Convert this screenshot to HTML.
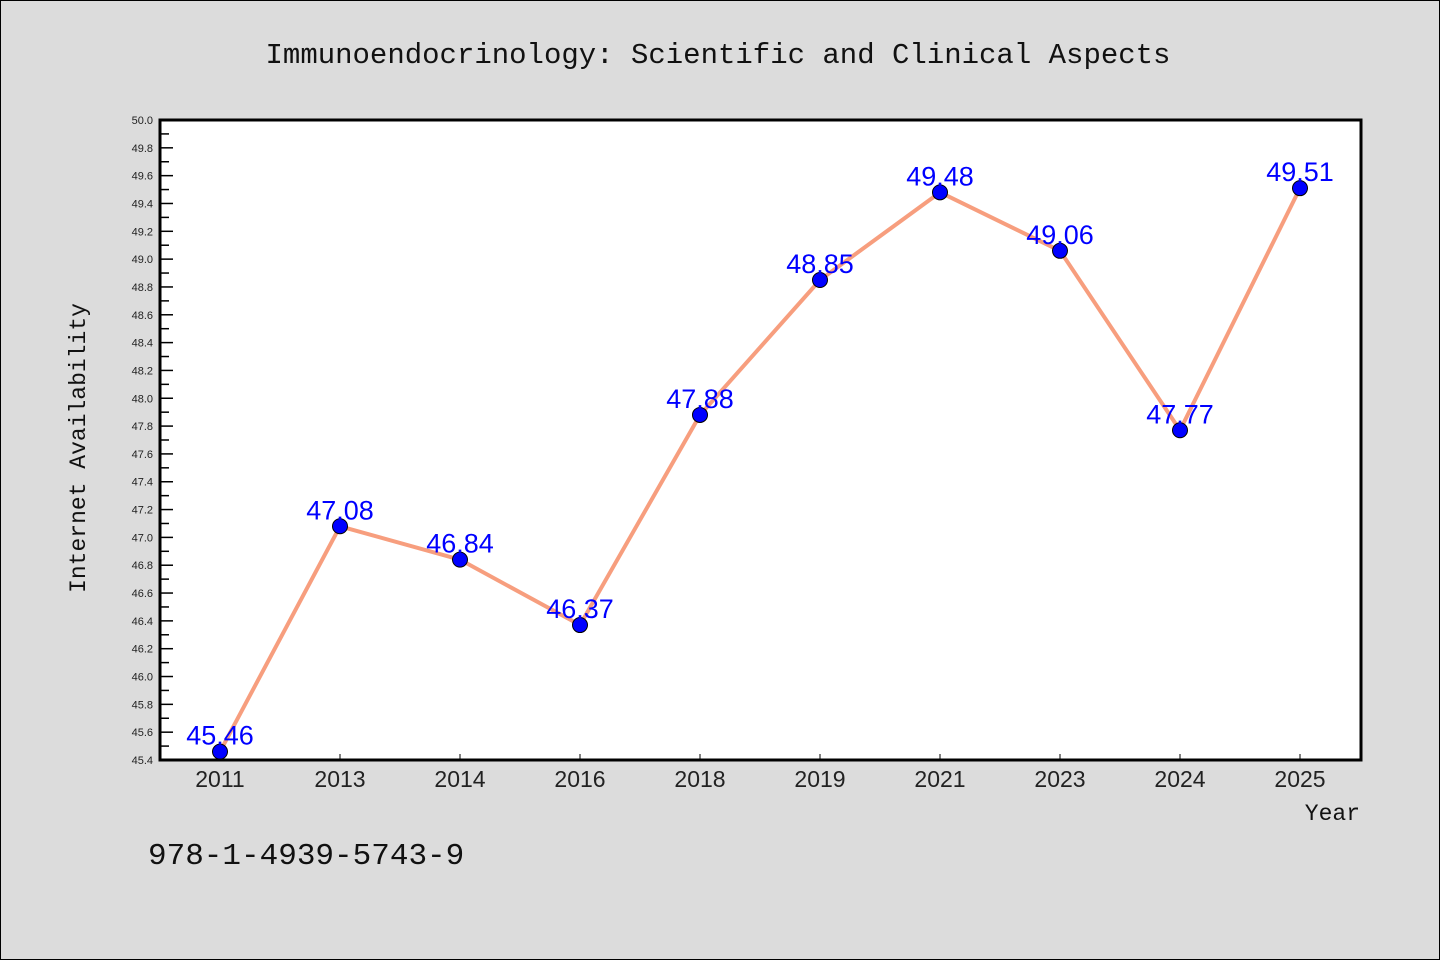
<!DOCTYPE html>
<html><head><meta charset="utf-8"><style>
html,body{margin:0;padding:0;background:#dcdcdc}
svg{display:block}
text{font-family:"Liberation Sans","DejaVu Sans",sans-serif}
.mono{font-family:"Liberation Mono","DejaVu Sans Mono",monospace}
</style></head><body>
<svg id="chart" width="1440" height="960" xmlns="http://www.w3.org/2000/svg">
<rect x="0.5" y="0.5" width="1439" height="959" fill="#dcdcdc" stroke="#000"/>
<text class="mono" x="718" y="63" font-size="29" text-anchor="middle" fill="#111">Immunoendocrinology: Scientific and Clinical Aspects</text>
<rect x="160" y="120" width="1201" height="640" fill="#fff"/>
<g id="yaxis"></g>
<g id="xaxis"></g>
<g id="series"></g>
<rect x="160" y="120" width="1201" height="640" fill="none" stroke="#000" stroke-width="3"/>
<text class="mono" transform="translate(85,448) rotate(-90)" font-size="23" text-anchor="middle" fill="#111">Internet Availability</text>
<text class="mono" x="1360" y="820" font-size="23" text-anchor="end" fill="#111">Year</text>
<text class="mono" x="148" y="864" font-size="31" fill="#111">978-1-4939-5743-9</text>
</svg>
<script>
const categories = ["2011","2013","2014","2016","2018","2019","2021","2023","2024","2025"];
const values = [45.46,47.08,46.84,46.37,47.88,48.85,49.48,49.06,47.77,49.51];
const valueLabels = ["45.46","47.08","46.84","46.37","47.88","48.85","49.48","49.06","47.77","49.51"];
const yTicks = ["45.4","45.6","45.8","46.0","46.2","46.4","46.6","46.8","47.0","47.2","47.4","47.6","47.8","48.0","48.2","48.4","48.6","48.8","49.0","49.2","49.4","49.6","49.8","50.0"];
const yMin = 45.4, yMax = 50.0;
const NS = "http://www.w3.org/2000/svg";
const L=160,R=1361,T=120,B=760;
function xPos(i){return 220 + i*((1300-220)/(categories.length-1));}
function yPos(v){return B - (v-yMin)/(yMax-yMin)*(B-T);}
function mk(tag,attrs,parent){const e=document.createElementNS(NS,tag);for(const k in attrs)e.setAttribute(k,attrs[k]);parent.appendChild(e);return e;}
const ya=document.getElementById('yaxis'), xa=document.getElementById('xaxis'), sg=document.getElementById('series');
yTicks.forEach(t=>{
  const v=parseFloat(t), y=yPos(v);
  const ln=mk('line',{x1:L,x2:L+13,y1:y,y2:y,stroke:'#000','stroke-width':1.5},ya);
  
  
  const tx=mk('text',{x:L-7,y:y+4,'font-size':11,'text-anchor':'end',fill:'#222'},ya);
  tx.textContent=t;
  
  
  if(v+0.1<yMax+1e-9){
    const ym=yPos(v+0.1);
    const mn=mk('line',{x1:L,x2:L+9,y1:ym,y2:ym,stroke:'#000','stroke-width':1.5},ya);
    
    
  }
});
categories.forEach((c,i)=>{
  const x=xPos(i);
  const ln=mk('line',{x1:x,x2:x,y1:B,y2:B-6,stroke:'#000','stroke-width':1},xa);
  
  
  const tx=mk('text',{x:x,y:B+27,'font-size':23,'text-anchor':'middle',fill:'#222'},xa);
  tx.textContent=c;
  
  
});
const pts=values.map((v,i)=>xPos(i)+','+yPos(v)).join(' ');
const pl=mk('polyline',{points:pts,fill:'none',stroke:'#f79e7e','stroke-width':4,'stroke-linejoin':'round'},sg);


values.forEach((v,i)=>{
  const c=mk('circle',{cx:xPos(i),cy:yPos(v),r:7.5,fill:'#0000ff',stroke:'#000','stroke-width':1},sg);
  
  
});
values.forEach((v,i)=>{
  const t=mk('text',{x:xPos(i),y:yPos(v)-7,'font-size':27,'text-anchor':'middle',fill:'#0000ff'},sg);
  t.textContent=valueLabels[i];
  
  
});
</script>
</body></html>
